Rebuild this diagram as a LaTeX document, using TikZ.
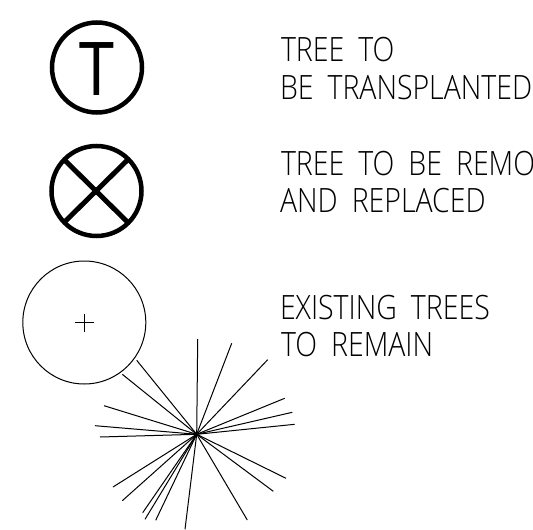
\documentclass[tikz,border=0pt]{standalone}
\usepackage{fontspec}
\newfontfamily\notefont[FakeStretch=0.85,WordSpace=1.9]{Open Sans Light}
\newfontfamily\markfont[FakeStretch=0.78]{Liberation Sans}
\tikzset{
  note/.style={anchor=base west,inner sep=0pt,outer sep=0pt,font=\notefont\fontsize{33.5}{33.5}\selectfont},
  markT/.style={inner sep=0pt,outer sep=0pt,font=\markfont\fontsize{77}{77}\selectfont},
  symring/.style={draw=black,line width=4.5pt},
  xbar/.style={draw=black,line width=5pt},
  thin line/.style={draw=black,line width=1pt},
}
\begin{document}
\begin{tikzpicture}[x=1pt,y=-1pt]
\useasboundingbox (0,0) rectangle (533,530);
\begin{scope}
\clip (0,0) rectangle (533,530);
% Symbol T
\draw[symring] (97,67.5) circle (45);
\node[markT,anchor=base] (markt) at (97,95) {T};
% Symbol X
\draw[symring] (96.5,191) circle (45);
\draw[xbar] (64,159.5) -- (128,222.5);
\draw[xbar] (128,159.5) -- (64,222.5);
% Existing tree
\draw[thin line] (84.3,322.5) circle (61.5);
\draw[thin line,line width=.8pt] (75,322.5) -- (94,322.5) (84.5,313.5) -- (84.5,332);
% Star
\coordinate (hub) at (196.7,434.3);
\foreach \ex/\ey in {197.7/339,231.7/343.3,267.7/359.7,284.7/398.3,292.3/412.3,294.7/424.3,286/478.3,273.3/491.3,247.3/520,185/529.3,155.7/520.3,145/519.3,142.7/512.7,122.3/500.7,113/487,100/437,95/425.7,104/405.7,122.3/374.3,136.7/360.3}
  \draw[thin line] (hub) -- (\ex,\ey);
% Text
\node[note] (t1) at (281,61.7) {TREE TO};
\node[note] (t2) at (280,99) {BE TRANSPLANTED};
\node[note] (t3) at (281,175) {TREE TO BE REMO};
\node[note] (t4) at (280,212.7) {AND REPLACED};
\node[note] (t5) at (280,319) {EXISTING TREES};
\node[note] (t6) at (281,356.7) {TO REMAIN};
\end{scope}
\end{tikzpicture}
\end{document}
